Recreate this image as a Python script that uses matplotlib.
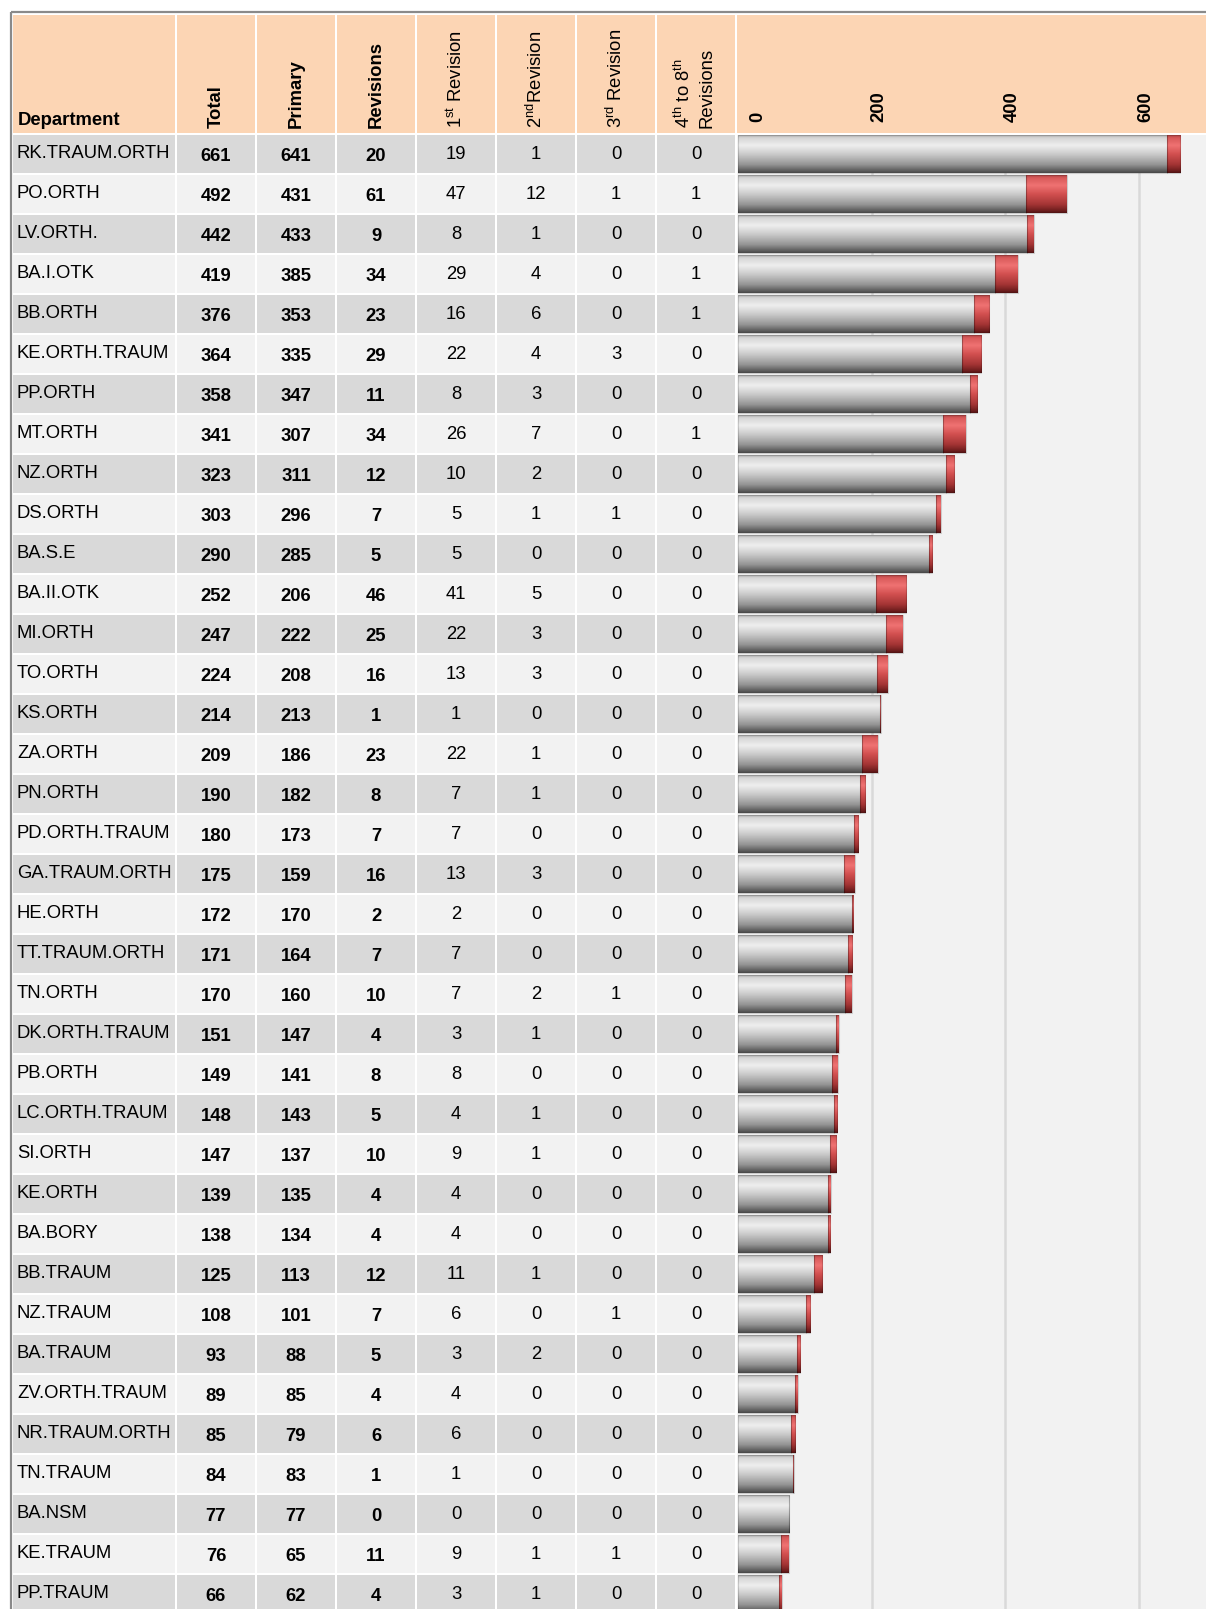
import numpy as np
import matplotlib
matplotlib.use("Agg")
import matplotlib.pyplot as plt
import matplotlib.transforms as mtransforms
from matplotlib.patches import Rectangle

plt.rcParams['font.family'] = ['Liberation Sans', 'DejaVu Sans']
plt.rcParams['mathtext.fontset'] = 'custom'
plt.rcParams['mathtext.rm'] = 'Liberation Sans'
plt.rcParams['mathtext.it'] = 'Liberation Sans:italic'
plt.rcParams['mathtext.bf'] = 'Liberation Sans:bold'

# --- data per department ---
departments = [
    "RK.TRAUM.ORTH", "PO.ORTH", "LV.ORTH.", "BA.I.OTK", "BB.ORTH", "KE.ORTH.TRAUM",
    "PP.ORTH", "MT.ORTH", "NZ.ORTH", "DS.ORTH", "BA.S.E", "BA.II.OTK", "MI.ORTH",
    "TO.ORTH", "KS.ORTH", "ZA.ORTH", "PN.ORTH", "PD.ORTH.TRAUM", "GA.TRAUM.ORTH",
    "HE.ORTH", "TT.TRAUM.ORTH", "TN.ORTH", "DK.ORTH.TRAUM", "PB.ORTH", "LC.ORTH.TRAUM",
    "SI.ORTH", "KE.ORTH", "BA.BORY", "BB.TRAUM", "NZ.TRAUM", "BA.TRAUM",
    "ZV.ORTH.TRAUM", "NR.TRAUM.ORTH", "TN.TRAUM", "BA.NSM", "KE.TRAUM", "PP.TRAUM",
]
total = [661, 492, 442, 419, 376, 364, 358, 341, 323, 303, 290, 252, 247, 224, 214,
         209, 190, 180, 175, 172, 171, 170, 151, 149, 148, 147, 139, 138, 125, 108,
         93, 89, 85, 84, 77, 76, 66]
primary = [641, 431, 433, 385, 353, 335, 347, 307, 311, 296, 285, 206, 222, 208, 213,
           186, 182, 173, 159, 170, 164, 160, 147, 141, 143, 137, 135, 134, 113, 101,
           88, 85, 79, 83, 77, 65, 62]
revisions = [20, 61, 9, 34, 23, 29, 11, 34, 12, 7, 5, 46, 25, 16, 1, 23, 8, 7, 16, 2,
             7, 10, 4, 8, 5, 10, 4, 4, 12, 7, 5, 4, 6, 1, 0, 11, 4]
rev_1st = [19, 47, 8, 29, 16, 22, 8, 26, 10, 5, 5, 41, 22, 13, 1, 22, 7, 7, 13, 2, 7,
           7, 3, 8, 4, 9, 4, 4, 11, 6, 3, 4, 6, 1, 0, 9, 3]
rev_2nd = [1, 12, 1, 4, 6, 4, 3, 7, 2, 1, 0, 5, 3, 3, 0, 1, 1, 0, 3, 0, 0, 2, 1, 0, 1,
           1, 0, 0, 1, 0, 2, 0, 0, 0, 0, 1, 1]
rev_3rd = [0, 1, 0, 0, 0, 3, 0, 0, 0, 1, 0, 0, 0, 0, 0, 0, 0, 0, 0, 0, 0, 1, 0, 0, 0,
           0, 0, 0, 0, 1, 0, 0, 0, 0, 0, 1, 0]
rev_4to8 = [0, 1, 0, 1, 1, 0, 0, 1, 0, 0, 0, 0, 0, 0, 0, 0, 0, 0, 0, 0, 0, 0, 0, 0, 0,
            0, 0, 0, 0, 0, 0, 0, 0, 0, 0, 0, 0]
axis_ticks = [0, 200, 400, 600]

# --- layout (pixels) ---
W, H = 1206, 1609
FS = 13.3
PEACH = '#fcd5b4'
ROW_DARK, ROW_LIGHT = '#d9d9d9', '#f2f2f2'
HEAD_TOP, HEAD_BOT = 15, 133
TOP, ROW_H, PITCH = 135, 38, 40
COLS = [(13, 175), (177, 255), (257, 335), (337, 415),
        (417, 495), (497, 575), (577, 655), (657, 735)]
CHART_X0 = 737

fig = plt.figure(figsize=(W / 100, H / 100), dpi=100)
tab = fig.add_axes([0, 0, 1, 1])
tab.set_xlim(0, W)
tab.set_ylim(H, 0)
tab.axis('off')

# outer frame
tab.plot([10.5, W], [11.5, 11.5], color='#8a8a8a', lw=1.6, solid_capstyle='butt')
tab.plot([10.5, 10.5], [11.5, H], color='#8a8a8a', lw=1.6, solid_capstyle='butt')

# header cells
for x0, x1 in COLS + [(CHART_X0, W)]:
    tab.add_patch(Rectangle((x0, HEAD_TOP), x1 - x0, HEAD_BOT - HEAD_TOP,
                            fc=PEACH, ec='none'))
tab.add_patch(Rectangle((CHART_X0, TOP), W - CHART_X0, H - TOP, fc='#f2f2f2', ec='none'))

HY = 128
tab.text(18, 125, "Department", fontsize=FS, fontweight='bold', ha='left', va='baseline')
bold_heads = ["Total", "Primary", "Revisions"]
for (x0, x1), lab in zip(COLS[1:4], bold_heads):
    tab.text((x0 + x1) / 2, HY, lab, rotation=90, fontsize=FS, fontweight='bold',
             ha='center', va='bottom')
reg_heads = [r"1$^{\mathrm{st}}$ Revision", r"2$^{\mathrm{nd}}$Revision",
             r"3$^{\mathrm{rd}}$ Revision"]
for (x0, x1), lab in zip(COLS[4:7], reg_heads):
    tab.text((x0 + x1) / 2, HY, lab, rotation=90, fontsize=FS, ha='center', va='bottom')
cx = (COLS[7][0] + COLS[7][1]) / 2
tab.text(cx - 12, HY, r"4$^{\mathrm{th}}$ to 8$^{\mathrm{th}}$", rotation=90,
         fontsize=FS, ha='center', va='bottom')
tab.text(cx + 11, HY, "Revisions", rotation=90, fontsize=FS, ha='center', va='bottom')

# table body
for i, name in enumerate(departments):
    y0 = TOP + PITCH * i
    yc = y0 + ROW_H / 2
    fc = ROW_DARK if i % 2 == 0 else ROW_LIGHT
    for x0, x1 in COLS:
        tab.add_patch(Rectangle((x0, y0), x1 - x0, ROW_H, fc=fc, ec='none'))
    tab.text(17, yc - 0.5, name, fontsize=FS, ha='left', va='center')
    for (x0, x1), v in zip(COLS[1:4], (total[i], primary[i], revisions[i])):
        tab.text((x0 + x1) / 2, yc + 2.5, str(v), fontsize=FS, fontweight='bold',
                 ha='center', va='center')
    for (x0, x1), v in zip(COLS[4:8], (rev_1st[i], rev_2nd[i], rev_3rd[i], rev_4to8[i])):
        tab.text((x0 + x1) / 2, yc + 0.5, str(v), fontsize=FS, ha='center', va='center')

# --- bar chart ---
n = len(departments)
y_top = (TOP - (TOP + ROW_H / 2)) / PITCH
y_bot = (H - (TOP + ROW_H / 2)) / PITCH
ax = fig.add_axes([738 / W, 0, (W - 738) / W, (H - TOP) / H])
ax.patch.set_alpha(0)
xmax = 700

def gradient(stops):
    t = np.linspace(0, 1, 64)
    pos = [s[0] for s in stops]
    rgb = np.array([matplotlib.colors.to_rgb(s[1]) for s in stops])
    cols = np.stack([np.interp(t, pos, rgb[:, k]) for k in range(3)], axis=-1)
    return cols[:, None, :]

gray_grad = gradient([(0, '#b0b0b0'), (0.07, '#d6d6d6'), (0.27, '#eeeeee'),
                      (0.5, '#cbcbcb'), (0.78, '#959595'), (0.93, '#626262'),
                      (1, '#4a4a4a')])
red_grad = gradient([(0, '#b04444'), (0.07, '#d85a5a'), (0.27, '#ef7272'),
                     (0.5, '#d25050'), (0.78, '#a33434'), (0.93, '#732020'),
                     (1, '#531414')])

for t in axis_ticks[1:]:
    ax.axvline(t, color='#d9d9d9', lw=1.8, zorder=1)

ypos = np.arange(n)
bars_p = ax.barh(ypos, primary, height=0.95, color='none', edgecolor='#00000028',
                 lw=0.8, zorder=3)
bars_r = ax.barh(ypos, revisions, left=primary, height=0.95, color='none',
                 edgecolor='#00000028', lw=0.8, zorder=3)
for bars, grad in ((bars_p, gray_grad), (bars_r, red_grad)):
    for b in bars:
        if b.get_width() <= 0:
            continue
        x, y, w, h = b.get_x(), b.get_y(), b.get_width(), b.get_height()
        ax.imshow(grad, extent=(x, x + w, y + h, y), aspect='auto',
                  interpolation='bilinear', zorder=2)

ax.set_xlim(0, xmax)
ax.set_ylim(y_bot, y_top)
for s in ax.spines.values():
    s.set_visible(False)
ax.set_yticks([])
ax.xaxis.tick_top()
ax.set_xticks(axis_ticks)
ax.set_xticklabels([str(t) for t in axis_ticks], rotation=90, fontsize=FS,
                   fontweight='bold')
ax.tick_params(axis='x', length=0, pad=9)
# labels sit just right of their gridline; the "0" is nudged inside the panel
for t, lbl in zip(axis_ticks, ax.get_xticklabels()):
    dx = 20 if t == 0 else 7
    lbl.set_transform(lbl.get_transform() +
                      mtransforms.ScaledTranslation(dx / 100, 0, fig.dpi_scale_trans))

fig.savefig("out.png", dpi=100, facecolor='white')
